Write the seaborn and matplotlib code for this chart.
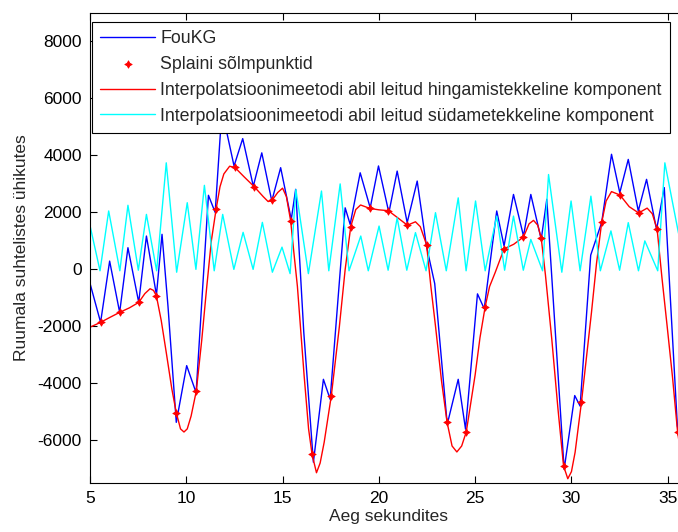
import numpy as np
import pandas as pd
import matplotlib
matplotlib.use("Agg")
import matplotlib.pyplot as plt
import seaborn as sns

# ---- data ----
foukg_t = [5.0, 5.55, 6.02, 6.54, 6.97, 7.53, 7.93, 8.45, 8.74, 9.05, 9.48, 10.02, 10.51,
           11.15, 11.5, 11.85, 12.48, 12.93, 13.48, 13.92, 14.44, 14.9, 15.45, 15.68, 16.1,
           16.6, 17.12, 17.47, 18.25, 18.51, 19.03, 19.55, 19.98, 20.52, 20.95, 21.47, 21.99,
           22.47, 22.9, 23.55, 24.12, 24.5, 25.12, 25.47, 26.12, 26.5, 26.99, 27.51, 27.89,
           28.43, 28.72, 29.62, 30.17, 30.45, 31.0, 31.57, 32.08, 32.51, 32.95, 33.47, 33.9,
           34.42, 34.82, 35.5, 36.0]
foukg_v = [-490, -1860, 290, -1510, 760, -1160, 1170, -900, 1230, -1300, -5370, -3380, -4330,
           2600, 2000, 5600, 3630, 4590, 2920, 4090, 2400, 3570, 1750, 2810, -2200,
           -6770, -3860, -4560, 2160, 1580, 3390, 2160, 3630, 1990, 3450, 1640, 3100,
           820, -500, -5440, -3860, -5610, -860, -1380, 2050, 820, 2630, 1170, 2630,
           1050, 2460, -7020, -4430, -4800, 500, 1650, 4040, 2690, 3860, 2050, 3160,
           1400, 2870, -5500, -7000]

knot_t = [5.55, 6.54, 7.53, 8.45, 9.48, 10.52, 11.55, 12.52, 13.53, 14.45, 15.42, 16.53,
          17.53, 18.54, 19.53, 20.49, 21.48, 22.48, 23.54, 24.54, 25.52, 26.5, 27.51, 28.43,
          29.59, 30.52, 31.57, 32.52, 33.49, 34.45, 35.51]
knot_v = [-1860, -1510, -1160, -940, -5030, -4270, 2120, 3580, 2900, 2420, 1700, -6490,
          -4440, 1500, 2140, 2060, 1550, 860, -5360, -5700, -1310, 720, 1135, 1100,
          -6900, -4660, 1650, 2610, 1980, 1400, -5700]

resp_t = [5.0, 5.55, 6.05, 6.54, 7.05, 7.53, 7.85, 8.12, 8.3, 8.45, 8.7, 8.96, 9.25, 9.48,
          9.7, 9.88, 10.05, 10.25, 10.52, 10.8, 11.05, 11.3, 11.55, 11.75, 11.95, 12.25,
          12.52, 13.0, 13.53, 14.0, 14.25, 14.45, 14.75, 15.0, 15.2, 15.42, 15.6, 15.77,
          16.12, 16.35, 16.53, 16.76, 16.95, 17.16, 17.53, 17.95, 18.25, 18.54, 18.8, 19.05,
          19.53, 20.0, 20.49, 21.0, 21.48, 21.9, 22.15, 22.48, 22.7, 22.94, 23.25, 23.54,
          23.8, 24.05, 24.3, 24.54, 25.0, 25.25, 25.52, 25.75, 26.04, 26.5, 27.0, 27.51,
          27.8, 28.03, 28.25, 28.43, 28.65, 28.98, 29.3, 29.59, 29.81, 30.0, 30.19, 30.52,
          31.04, 31.3, 31.57, 31.8, 32.08, 32.52, 33.0, 33.49, 33.93, 34.2, 34.45, 34.7,
          34.97, 35.25, 35.51, 35.8]
resp_v = [-2030, -1860, -1680, -1510, -1350, -1160, -850, -680, -740, -940, -1800, -2920,
          -4200, -5030, -5600, -5710, -5600, -5150, -4270, -2500, -700, 1000, 2120, 2900,
          3350, 3620, 3580, 3250, 2900, 2550, 2380, 2420, 2700, 2850, 2550, 1700, 500, -600,
          -3740, -5600, -6490, -7140, -6800, -6070, -4440, -2000, 0, 1500, 2100, 2260,
          2140, 2090, 2060, 1800, 1550, 1670, 1500, 860, -600, -1990, -3900, -5360,
          -6200, -6410, -6200, -5700, -3700, -2400, -1310, -600, -110, 720, 880, 1135,
          1600, 1720, 1550, 1100, -200, -2460, -4900, -6900, -7350, -7100, -6420, -4660,
          -1510, 200, 1650, 2400, 2730, 2610, 2200, 1980, 2150, 1950, 1400, -300,
          -2000, -3800, -5700, -7000]

card_t = [5.0, 5.52, 5.97, 6.55, 6.97, 7.51, 7.93, 8.46, 8.96, 9.5, 10.05, 10.5, 10.94,
          11.45, 11.89, 12.47, 12.95, 13.47, 13.95, 14.47, 14.97, 15.39, 15.69, 16.34, 17.02,
          17.4, 17.99, 18.45, 19.06, 19.45, 20.01, 20.48, 20.95, 21.45, 21.9, 22.45, 22.94,
          23.5, 24.12, 24.53, 25.02, 25.52, 26.12, 26.53, 26.99, 27.5, 27.89, 28.5, 28.81,
          29.5, 29.98, 30.45, 31.01, 31.5, 32.05, 32.5, 32.95, 33.48, 33.81, 34.48, 34.85,
          35.55, 36.0]
card_v = [1540, -50, 2050, -50, 2250, -30, 1930, -50, 3740, -100, 2340, 0, 2950,
          -50, 1930, 0, 1300, 0, 1650, -100, 780, -150, 2800, -150, 2750,
          -50, 3000, -50, 1170, -50, 1520, -30, 1810, -30, 1290, -50, 1990,
          -50, 2510, -50, 2400, -50, 1870, -30, 1870, -30, 1050, -50, 3330,
          -100, 2400, -50, 2570, -50, 1350, -30, 1640, -50, 1000, -50, 3740,
          1300, -50]

labels = ["FouKG",
          "Splaini sõlmpunktid",
          "Interpolatsioonimeetodi abil leitud hingamistekkeline komponent",
          "Interpolatsioonimeetodi abil leitud südametekkeline komponent"]

xticks = [5, 10, 15, 20, 25, 30, 35]
yticks = [-6000, -4000, -2000, 0, 2000, 4000, 6000, 8000]

# ---- drawing ----
sns.set_style("ticks")
plt.rcParams['font.family'] = ['Liberation Sans', 'DejaVu Sans']

fig = plt.figure(figsize=(6.78, 5.32), dpi=100)
ax = fig.add_axes([90/678, 49/532, (687-90)/678, (483-13)/532])

fs = 12.5
lw = 1.0
sns.lineplot(x=foukg_t, y=foukg_v, ax=ax, color="#0000ff", lw=lw, estimator=None,
             sort=False, label=labels[0])
sns.scatterplot(x=knot_t, y=knot_v, ax=ax, color="#ff0000", marker=(4, 1, 0), s=28,
                edgecolor="#ff0000", linewidth=0.6, label=labels[1], zorder=3)
sns.lineplot(x=resp_t, y=resp_v, ax=ax, color="#ff0000", lw=lw, estimator=None,
             sort=False, label=labels[2])
sns.lineplot(x=card_t, y=card_v, ax=ax, color="#00ffff", lw=lw, estimator=None,
             sort=False, label=labels[3])

ax.set_xlim(5, 36)
ax.set_ylim(-7500, 9000)
ax.set_xticks(xticks)
ax.set_yticks(yticks)
ax.set_xticklabels([str(v) for v in xticks], fontsize=fs)
ax.set_yticklabels([str(v) for v in yticks], fontsize=fs)
ax.tick_params(direction='in', length=5, width=0.8, top=True, right=True,
               colors='black', pad=6)
for s in ax.spines.values():
    s.set_linewidth(0.8)
    s.set_color('black')

ax.set_xlabel("Aeg sekundites", fontsize=fs, labelpad=2)
ax.set_ylabel("Ruumala suhtelistes ühikutes", fontsize=fs, labelpad=6)

handles, labs = ax.get_legend_handles_labels()
order = [labs.index(l) for l in labels]
leg = ax.legend([handles[i] for i in order], [labs[i] for i in order],
                loc='upper left', bbox_to_anchor=(2/597, 1 - 9/470), fontsize=12.8,
                frameon=True, fancybox=False, framealpha=1, edgecolor='black',
                borderpad=0.45, labelspacing=0.5, handlelength=3.1, handletextpad=0.3,
                borderaxespad=0.0)
leg.get_frame().set_linewidth(0.8)
leg.set_zorder(10)

fig.savefig("out.png", dpi=100)
